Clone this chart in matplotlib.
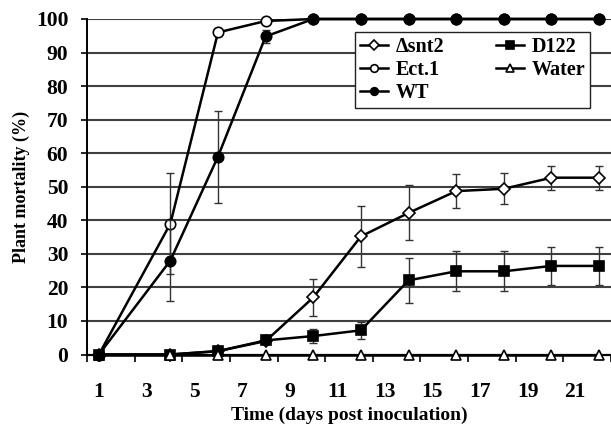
import matplotlib
matplotlib.use("Agg")
import matplotlib.pyplot as plt
import numpy as np

days = [1, 4, 6, 8, 10, 12, 14, 16, 18, 20, 22]
snt2 = [0, 0, 1, 4, 17, 35.2, 42.2, 48.7, 49.4, 52.7, 52.7]
snt2_err = [0, 0, 0, 0, 5.4, 9, 8.2, 5, 4.6, 3.6, 3.6]
d122 = [0, 0, 1, 4.2, 5.5, 7.2, 22.1, 24.8, 24.8, 26.4, 26.4]
d122_err = [0, 0, 0, 1.2, 2, 2.5, 6.7, 6, 6, 5.6, 5.6]
ect1 = [0, 39, 96, 99.4, 100, 100, 100, 100, 100, 100, 100]
ect1_err = [0, 15, 0, 0, 0, 0, 0, 0, 0, 0, 0]
water = [0, 0, 0, 0, 0, 0, 0, 0, 0, 0, 0]
wt = [0, 28, 59, 94.8, 100, 100, 100, 100, 100, 100, 100]
wt_err = [0, 12, 13.7, 2, 0, 0, 0, 0, 0, 0, 0]
xtick_labels = [1, 3, 5, 7, 9, 11, 13, 15, 17, 19, 21]
yticks = list(range(0, 101, 10))

plt.rcParams['font.family'] = ['Liberation Serif', 'DejaVu Serif']
plt.rcParams['font.weight'] = 'bold'

fig = plt.figure(figsize=(6.11, 4.34), dpi=100)
ax = fig.add_axes([87/611, 1 - 354.5/434, 1 - 87/611, (354.5 - 19)/434])

ax.set_xlim(0.5, 22.33)
ax.set_ylim(0, 100)

for y in yticks[1:]:
    ax.axhline(y, color='#404040', lw=1.5, zorder=1)

ekw = dict(ecolor='#333333', elinewidth=1.0, capsize=3, capthick=1.0)

def series(vals, err, marker, mfc, ms, z, label):
    e = [v if v > 0 else np.nan for v in err]
    ax.errorbar(days, vals, yerr=e, fmt='none', zorder=z - 0.5, clip_on=False, **ekw)
    h, = ax.plot(days, vals, color='black', lw=1.8, marker=marker, mfc=mfc,
                 mec='black', mew=1.2, ms=ms, zorder=z, clip_on=False, label=label)
    return h

h_snt2 = series(snt2, snt2_err, 'D', 'white', 6, 3, '\u0394snt2')
h_d122 = series(d122, d122_err, 's', 'black', 7, 4, 'D122')
h_ect1 = series(ect1, ect1_err, 'o', 'white', 7.5, 5, 'Ect.1')
h_water = series(water, [0]*len(water), '^', 'white', 7, 6, 'Water')
h_wt = series(wt, wt_err, 'o', 'black', 7.5, 7, 'WT')

for s in ['top', 'right']:
    ax.spines[s].set_visible(False)
ax.spines['left'].set_linewidth(1.4)
ax.spines['bottom'].set_linewidth(1.6)
ax.spines['left'].set_zorder(8)
ax.spines['bottom'].set_zorder(2)

ax.set_xticks(np.arange(0.5, 23, 2))
ax.set_xticklabels([])
ax.set_xticks(xtick_labels, minor=True)
ax.set_xticklabels([str(v) for v in xtick_labels], minor=True)
ax.tick_params(axis='x', which='major', direction='out', length=5, width=1.2)
ax.tick_params(axis='x', which='minor', length=0, pad=20, labelsize=15.5)
ax.set_yticks(yticks)
ax.set_yticklabels([str(v) for v in yticks])
ax.tick_params(axis='y', direction='out', length=4.5, width=1.2, pad=9, labelsize=15.5)

ax.set_xlabel('Time (days post inoculation)', fontsize=14, fontweight='bold', labelpad=3)
ax.set_ylabel('Plant mortality (%)', fontsize=13, fontweight='bold', labelpad=4)

leg = fig.legend(handles=[h_snt2, h_ect1, h_wt, h_d122, h_water], ncol=2,
                 loc='upper left', bbox_to_anchor=(355/611, 1 - 32/434),
                 borderaxespad=0, frameon=True, fancybox=False, framealpha=1,
                 edgecolor='#222222', handlelength=1.4, handletextpad=0.35,
                 columnspacing=2.6, labelspacing=0.15, borderpad=0.25,
                 prop={'weight': 'bold', 'size': 14.5})
leg.get_frame().set_linewidth(1.0)
for h in leg.legend_handles:
    h.set_markersize(5.5)

fig.savefig('out.png', dpi=100)
